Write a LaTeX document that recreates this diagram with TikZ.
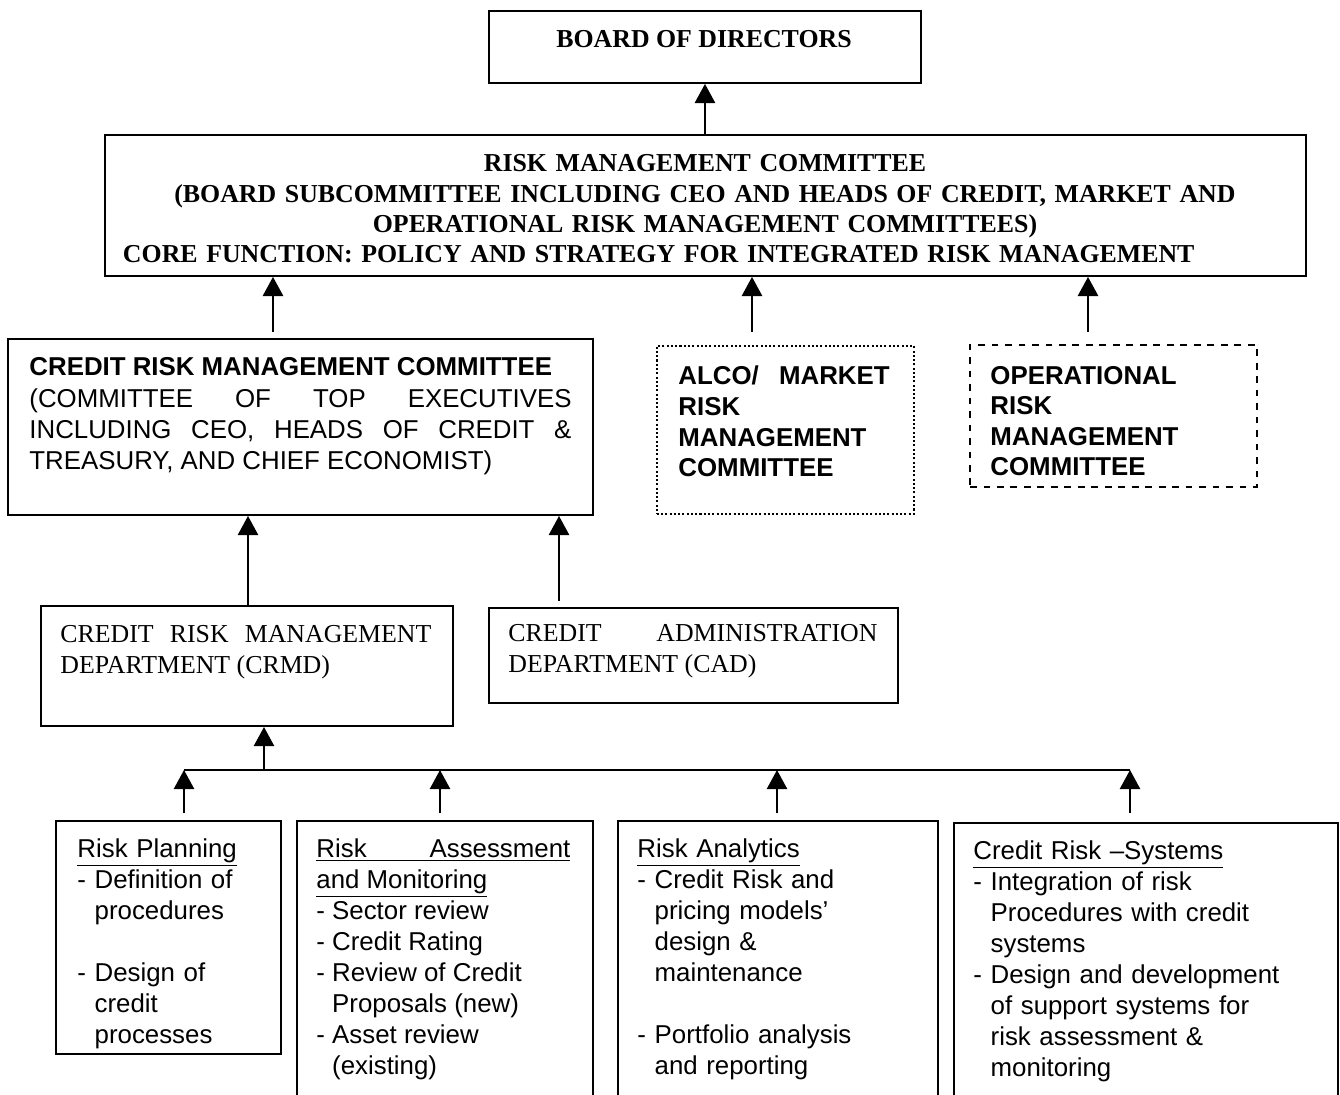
\documentclass[tikz,border=0pt]{standalone}
\usepackage{fontspec}
\setmainfont{Liberation Serif}
\setsansfont{Liberation Sans}
\usetikzlibrary{shapes}
\usetikzlibrary{arrows.meta}
\newcommand{\dashpad}{\phantom{-~}}

\begin{document}
\begin{tikzpicture}[x=0.445pt,y=-0.445pt]
\tikzstyle{box}=[draw,line width=0.9pt,anchor=north west,inner sep=0pt]
\tikzstyle{txt}=[anchor=base west,inner sep=0pt,align=left,text width=170pt]
\tikzstyle{jtxt}=[anchor=base west,inner sep=0pt,align=justify,execute at begin node={\hyphenpenalty=10000\tolerance=9999}]
\tikzstyle{serif}=[font=\fontsize{11.5}{14.2}\selectfont]
\tikzstyle{serifbold}=[font=\bfseries\fontsize{11.5}{13.4}\selectfont]
\tikzstyle{sans}=[font=\sffamily\fontsize{11.5}{13.8}\selectfont]
\tikzstyle{sansbold}=[font=\sffamily\bfseries\fontsize{11.5}{13.6}\selectfont]
\tikzstyle{up}=[line width=0.9pt,-{Triangle[length=8.5pt,width=9pt]}]

\useasboundingbox (0,0) rectangle (1340,1095);

\node[box,minimum width=192.2pt,minimum height=32pt] (board) at (488,10) {};
\node[box,minimum width=534.4pt,minimum height=62.7pt] (rmc) at (104,134) {};
\node[box,minimum width=260.3pt,minimum height=78.3pt] (crmc) at (7,338) {};
\node[box,densely dotted,line width=0.7pt,minimum width=114.4pt,minimum height=74.8pt] (alco) at (656,345) {};
\node[box,dashed,minimum width=127.7pt,minimum height=63.2pt] (oprisk) at (969,344) {};
\node[box,minimum width=183.3pt,minimum height=53.4pt] (crmd) at (40,605) {};
\node[box,minimum width=182pt,minimum height=42.3pt] (cad) at (488,607) {};
\node[box,minimum width=100.1pt,minimum height=103.7pt] (plan) at (55,820) {};
\node[box,minimum width=131.7pt,minimum height=133.5pt] (assess) at (296,820) {};
\node[box,minimum width=142.4pt,minimum height=133.5pt] (analytics) at (617,820) {};
\node[box,minimum width=170.9pt,minimum height=133.5pt] (systems) at (953,822) {};

\node[serifbold,anchor=base,inner sep=0pt] (boardtxt) at (704,48) {BOARD OF DIRECTORS};
\node[serifbold,anchor=base,inner sep=0pt,align=center,text width=518pt] (rmctxt) at (705,172)
  {RISK MANAGEMENT COMMITTEE\\
   (BOARD SUBCOMMITTEE INCLUDING CEO AND HEADS OF CREDIT, MARKET AND\\
   OPERATIONAL RISK MANAGEMENT COMMITTEES)\\
   \makebox[\linewidth][l]{CORE FUNCTION: POLICY AND STRATEGY FOR INTEGRATED RISK MANAGEMENT}};
\node[sans,jtxt,text width=241.2pt] (crmctxt) at (29,376)
  {\mbox{\bfseries CREDIT RISK MANAGEMENT COMMITTEE}\\
   (COMMITTEE OF TOP EXECUTIVES\linebreak
   INCLUDING CEO, HEADS OF CREDIT \&\linebreak
   TREASURY, AND CHIEF ECONOMIST)};
\node[sansbold,jtxt,text width=94pt] (alcotxt) at (678,385)
  {ALCO/ MARKET\linebreak RISK\\ MANAGEMENT\\ COMMITTEE};
\node[sansbold,txt] (oprisktxt) at (990,384)
  {OPERATIONAL\\ RISK\\ MANAGEMENT\\ COMMITTEE};
\node[serif,jtxt,text width=165.1pt] (crmdtxt) at (60,642)
  {CREDIT RISK MANAGEMENT\linebreak DEPARTMENT (CRMD)};
\node[serif,jtxt,text width=164.2pt] (cadtxt) at (508,641)
  {CREDIT ADMINISTRATION\linebreak DEPARTMENT (CAD)};
\node[sans,txt] (plantxt) at (77,857)
  {\underline{Risk Planning}\\
   - Definition of\\
   \dashpad procedures\\
   \mbox{}\\
   - Design of\\
   \dashpad credit\\
   \dashpad processes};
\node[sans,jtxt,text width=113pt] (assesstxt) at (316,857)
  {\underline{\makebox[\linewidth][s]{Risk Assessment}}\\
   \underline{and Monitoring}\\
   - Sector review\\
   - Credit Rating\\
   - Review of Credit\\
   \dashpad Proposals (new)\\
   - Asset review\\
   \dashpad (existing)};
\node[sans,txt] (analyticstxt) at (637,857)
  {\underline{Risk Analytics}\\
   - Credit Risk and\\
   \dashpad pricing models’\\
   \dashpad design \&\\
   \dashpad maintenance\\
   \mbox{}\\
   - Portfolio analysis\\
   \dashpad and reporting};
\node[sans,txt] (systemstxt) at (973,859)
  {\underline{Credit Risk –Systems}\\
   - Integration of risk\\
   \dashpad Procedures with credit\\
   \dashpad systems\\
   - Design and development\\
   \dashpad of support systems for\\
   \dashpad risk assessment \&\\
   \dashpad monitoring};

\coordinate (x1) at (273,0);
\coordinate (x2) at (752,0);
\coordinate (x3) at (1088,0);
\coordinate (x4) at (248,0);
\coordinate (x5) at (559,0);
\coordinate (busw) at (184,770);
\coordinate (bus0) at (264,770);
\coordinate (bus2) at (440,770);
\coordinate (bus3) at (777,770);
\coordinate (buse) at (1130,770);

\draw[up] (rmc.north -| board.south) -- (board.south);
\draw[up,shorten <=2.7pt] (crmc.north -| x1) -- (rmc.south -| x1);
\draw[up,shorten <=5.8pt] (alco.north -| x2) -- (rmc.south -| x2);
\draw[up,shorten <=5.3pt] (oprisk.north -| x3) -- (rmc.south -| x3);
\draw[up] (crmd.north -| x4) -- (crmc.south -| x4);
\draw[up,shorten <=2.7pt] (cad.north -| x5) -- (crmc.south -| x5);
\draw[line width=0.9pt] (busw) -- (buse);
\draw[up] (bus0) -- (crmd.south -| bus0);
\draw[up,shorten <=3pt] (plan.north -| busw) -- (busw);
\draw[up,shorten <=3pt] (assess.north -| bus2) -- (bus2);
\draw[up,shorten <=3pt] (analytics.north -| bus3) -- (bus3);
\draw[up,shorten <=4pt] (systems.north -| buse) -- (buse);
\end{tikzpicture}
\end{document}
